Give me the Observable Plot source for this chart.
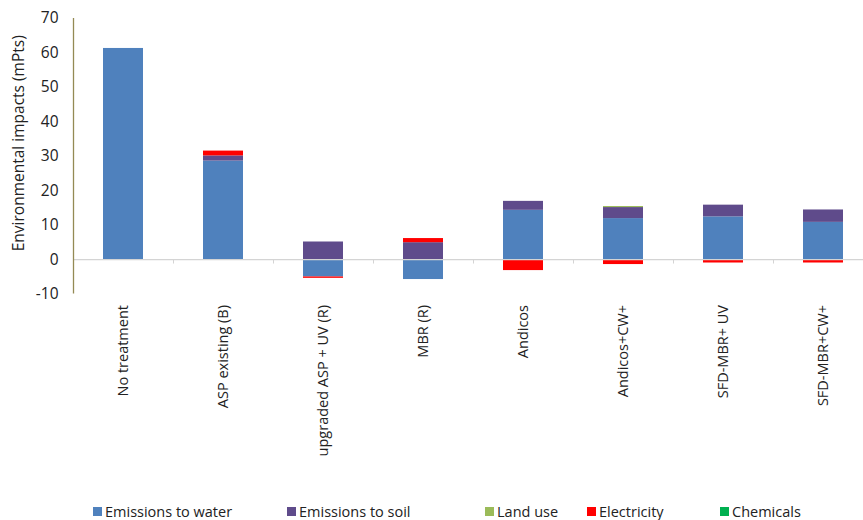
<!DOCTYPE html>
<html>
<head>
<meta charset="utf-8">
<script src="https://cdn.jsdelivr.net/npm/d3@7"></script>
<script src="https://cdn.jsdelivr.net/npm/@observablehq/plot@0.6"></script>
<style>
  html, body { margin: 0; padding: 0; background: #fff; }
  body { width: 863px; height: 520px; overflow: hidden; font-family: "Open Sans", sans-serif; }
  #chart svg { display: block; overflow: visible; }
  #legend { position: relative; height: 25px; font-size: 14.5px; color: #222; }
  .item { position: absolute; top: 7px; display: flex; align-items: center; white-space: nowrap; }
  .sw { width: 9px; height: 9px; margin-right: 3px; }
</style>
</head>
<body>
<div id="chart"></div>
<div id="legend"></div>
<script>
const categories = ["No treatment", "ASP existing (B)", "upgraded ASP + UV (R)", "MBR (R)", "Andicos", "Andicos+CW+", "SFD-MBR+ UV", "SFD-MBR+CW+"];
const seriesNames = ["Emissions to water", "Emissions to soil", "Land use", "Electricity", "Chemicals"];
const seriesColors = ["#4f81bd", "#5f4b8b", "#9bbb59", "#ff0000", "#00b050"];
const water       = [61.3, 28.6, -5.05, -5.8, 14.3, 11.9, 12.4, 10.8];
const soil        = [0, 1.5, 5.1, 4.9, 2.6, 3.2, 3.4, 3.6];
const landUse     = [0, 0, 0, 0, 0, 0.3, 0, 0];
const electricity = [0, 1.4, -0.4, 1.2, -3.2, -1.45, -1.0, -1.0];
const chemicals   = [0, 0, 0, 0, 0, 0, 0, 0];
const yTicks = [-10, 0, 10, 20, 30, 40, 50, 60, 70];
const yTitle = "Environmental impacts (mPts)";
const legendLeft = [93, 287, 485, 587, 720];

const seriesValues = [water, soil, landUse, electricity, chemicals];
const rows = [];
categories.forEach((c, i) => {
  seriesNames.forEach((s, j) => {
    rows.push({category: c, series: s, value: seriesValues[j][i]});
  });
});

const chart = Plot.plot({
  width: 863,
  height: 495,
  marginLeft: 73,
  marginRight: -10,
  marginTop: 18,
  marginBottom: 201.5,
  style: {fontFamily: "Open Sans, sans-serif", color: "#222", background: "#fff"},
  x: {domain: categories, paddingInner: 0.6, paddingOuter: 0.3, label: null},
  y: {domain: [-10, 70], label: null},
  color: {domain: seriesNames, range: seriesColors},
  marks: [
    Plot.barY(rows, {x: "category", y: "value", fill: "series", order: seriesNames}),
    Plot.ruleY([0], {stroke: "#d4d4d4", strokeWidth: 1.2}),
    Plot.ruleX(categories.slice(0, 7), {x: d => d, dx: 50, y1: 0, y2: -1.3, stroke: "#d4d4d4"}),
    Plot.ruleX(categories.slice(0, 1), {x: d => d, dx: -50, y1: -10, y2: 70, stroke: "#948a54", strokeWidth: 1.3}),
    Plot.axisY({ticks: yTicks, tickSize: 0, tickPadding: 15, fontSize: 15.5, tickFormat: d => String(d), label: null}),
    Plot.axisX({tickSize: 0, tickPadding: 11, tickRotate: -90, fontSize: 14.5, label: null}),
    Plot.text([yTitle], {frameAnchor: "left", textAnchor: "middle", dx: -54, dy: -13, rotate: -90, fontSize: 15.5, fill: "#222", text: d => d})
  ]
});
document.getElementById("chart").appendChild(chart);

const legend = document.getElementById("legend");
seriesNames.forEach((s, j) => {
  const it = document.createElement("div");
  it.className = "item";
  it.style.left = legendLeft[j] + "px";
  const sw = document.createElement("span");
  sw.className = "sw";
  sw.style.background = seriesColors[j];
  const t = document.createElement("span");
  t.textContent = s;
  it.appendChild(sw); it.appendChild(t);
  legend.appendChild(it);
});
</script>
</body>
</html>
